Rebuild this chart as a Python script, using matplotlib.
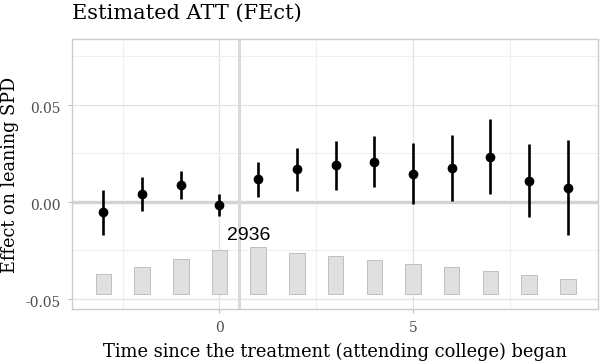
import matplotlib
matplotlib.use("Agg")
import matplotlib.pyplot as plt
from matplotlib.ticker import FixedLocator
from matplotlib.transforms import ScaledTranslation

# event time relative to treatment
periods = [-3, -2, -1, 0, 1, 2, 3, 4, 5, 6, 7, 8, 9]
att = [-0.0056, 0.0039, 0.0085, -0.0018, 0.0116, 0.0166, 0.0187,
       0.0205, 0.0143, 0.0174, 0.0231, 0.0104, 0.0071]
ci_low = [-0.0173, -0.0049, 0.0013, -0.0075, 0.0025, 0.0056, 0.0059,
          0.0073, -0.0014, 0.0001, 0.0037, -0.0081, -0.0173]
ci_high = [0.0059, 0.0128, 0.0157, 0.0039, 0.0205, 0.0277, 0.0310,
           0.0336, 0.0302, 0.0344, 0.0424, 0.0296, 0.0317]
# number of treated observations per period
counts = [1249, 1687, 2186, 2749, 2936, 2561, 2374, 2124, 1874, 1687, 1437, 1187, 937]

title = "Estimated ATT (FEct)"
xlab = "Time since the treatment (attending college) began"
ylab = "Effect on leaning SPD"

serif = ["DejaVu Serif"]
W, H = 603, 361

fig = plt.figure(figsize=(6.03, 3.61), dpi=100)
ax = fig.add_axes([72/W, 1-309/H, 526/W, 270/H])

# count bars at the bottom
bar_base = -0.0478
bar_max = 0.0242
heights = [c / max(counts) * bar_max for c in counts]
ax.bar(periods, heights, width=0.4, bottom=bar_base, color="#e0e0e0",
       edgecolor="#b8b8b8", linewidth=0.6, zorder=2)
imax = counts.index(max(counts))
ax.text(periods[imax] - 0.24, -0.0173, str(max(counts)), family="Liberation Sans",
        fontsize=14, ha="center", va="center", color="black", zorder=5)

# reference lines
ax.axhline(0, color="#d3d3d3", lw=2.4, zorder=1.5)
ax.axvline(0.5, color="#dadada", lw=2.2, zorder=1.5)

# estimates with confidence intervals
for x, lo, hi in zip(periods, ci_low, ci_high):
    ax.plot([x, x], [lo, hi], color="black", lw=1.9, solid_capstyle="butt", zorder=3)
ax.plot(periods, att, "o", color="black", ms=6, zorder=4)

ax.set_xlim(-3.81, 9.78)
ax.set_ylim(-0.0554, 0.0838)
ax.xaxis.set_major_locator(FixedLocator([0, 5]))
ax.xaxis.set_minor_locator(FixedLocator([-2.5, 2.5, 7.5]))
ax.yaxis.set_major_locator(FixedLocator([-0.05, 0, 0.05]))
ax.yaxis.set_minor_locator(FixedLocator([-0.025, 0.025, 0.075]))
ax.set_yticklabels(["-0.05", "0.00", "0.05"])
ax.grid(which="major", color="#e2e2e2", lw=0.9, zorder=0)
ax.grid(which="minor", color="#efefef", lw=0.8, zorder=0)
ax.set_axisbelow(True)
ax.tick_params(which="major", length=3, width=0.8, color="#bdbdbd",
               labelcolor="#4d4d4d", labelsize=10)
ax.tick_params(axis="x", which="major", pad=6)
ax.tick_params(axis="y", which="major", pad=5)
ax.tick_params(which="minor", length=0)
down = ScaledTranslation(0, -3/100, fig.dpi_scale_trans)
for lab in ax.get_xticklabels() + ax.get_yticklabels():
    lab.set_family(serif)
for lab in ax.get_yticklabels():
    lab.set_transform(lab.get_transform() + down)
for s in ax.spines.values():
    s.set_color("#cccccc")
    s.set_linewidth(1.0)

fig.text(72/W, 1-18.5/H, title, family=serif, fontsize=15, ha="left", va="baseline")
fig.text(335/W, 1-357/H, xlab, family=serif, fontsize=12.9, ha="center", va="baseline")
fig.text(15.5/W, 1-175/H, ylab, family=serif, fontsize=12.7, rotation=90,
         rotation_mode="anchor", ha="center", va="baseline")

fig.savefig("out.png", dpi=100)
